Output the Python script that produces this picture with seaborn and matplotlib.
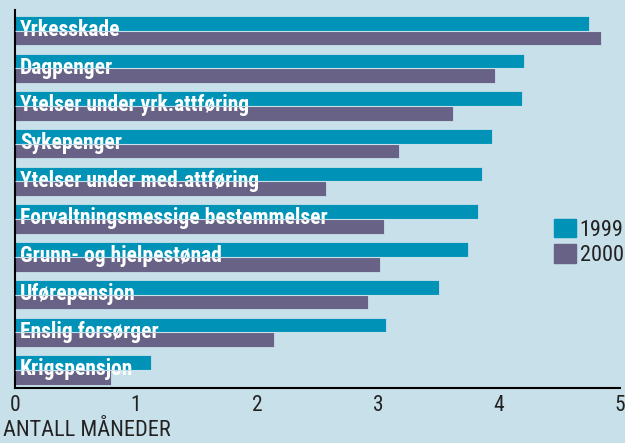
import matplotlib
matplotlib.use("Agg")
import matplotlib.pyplot as plt
import matplotlib.patches as mpatches
from matplotlib import font_manager
import pandas as pd
import seaborn as sns

# Data (months)
categories = ['Yrkesskade', 'Dagpenger', 'Ytelser under yrk.attføring', 'Sykepenger',
              'Ytelser under med.attføring', 'Forvaltningsmessige bestemmelser',
              'Grunn- og hjelpestønad', 'Uførepensjon', 'Enslig forsørger', 'Krigspensjon']
values_1999 = [4.74, 4.21, 4.19, 3.94, 3.86, 3.83, 3.74, 3.50, 3.07, 1.12]
values_2000 = [4.84, 3.97, 3.62, 3.17, 2.57, 3.05, 3.02, 2.92, 2.14, 0.79]
years = ['1999', '2000']

BG = '#c8e0ea'
TEAL = '#0093b7'
PURPLE = '#686386'

df = pd.DataFrame({
    'kategori': categories * 2,
    'år': [years[0]] * len(categories) + [years[1]] * len(categories),
    'måneder': values_1999 + values_2000,
})

sns.set_style('white')
names = {f.name for f in font_manager.fontManager.ttflist}
narrow = [n for n in ['Liberation Sans Narrow', 'Roboto Condensed', 'DejaVu Sans'] if n in names]
plt.rcParams['font.family'] = narrow + ['DejaVu Sans']
plt.rcParams['font.stretch'] = 'condensed'

fig = plt.figure(figsize=(6.25, 4.43), dpi=100, facecolor=BG)
ax = fig.add_axes([0.024, 0.124, 0.968, 0.853])
ax.set_facecolor(BG)

sns.barplot(data=df, y='kategori', x='måneder', hue='år', orient='h',
            palette=[TEAL, PURPLE], saturation=1, width=0.78, edgecolor=BG,
            linewidth=0.6, legend=False, ax=ax)

for i, name in enumerate(categories):
    ax.text(0.04, i + 0.14, name, color='white', fontsize=15.5, fontweight='bold',
            va='baseline', ha='left', zorder=4)

# thin light line between the two bars of a group, running over the labels
ax.hlines(range(len(categories)), 0,
          [max(a, b) for a, b in zip(values_1999, values_2000)],
          color=BG, linewidth=0.8, zorder=5)

ax.set_xlim(0, 5)
ax.set_ylim(9.48, -0.54)
ax.set_xticks([0, 1, 2, 3, 4, 5])
ax.set_yticks(range(len(categories)))
ax.set_yticklabels([])
ax.set_xlabel('')
ax.set_ylabel('')
ax.tick_params(axis='x', direction='in', length=7, width=1.5, color='black',
               labelsize=15.5, labelcolor='#222222', pad=5)
ax.tick_params(axis='y', direction='inout', length=7, width=1.2, color='black')
for s in ['top', 'right']:
    ax.spines[s].set_visible(False)
for s in ['left', 'bottom']:
    ax.spines[s].set_color('black')
    ax.spines[s].set_linewidth(1.5)

fig.text(0.005, 0.005, 'ANTALL MÅNEDER', fontsize=16, color='#222222',
         ha='left', va='bottom')

handles = [mpatches.Patch(color=TEAL, label='1999'),
           mpatches.Patch(color=PURPLE, label='2000')]
ax.legend(handles=handles, loc='center left', bbox_to_anchor=(0.891, 0.385),
          frameon=False, fontsize=16, handlelength=1.0, handleheight=0.9,
          handletextpad=0.15, labelspacing=0.15, borderpad=0, borderaxespad=0,
          labelcolor='#222222')

fig.savefig('out.png', dpi=100, facecolor=BG)
